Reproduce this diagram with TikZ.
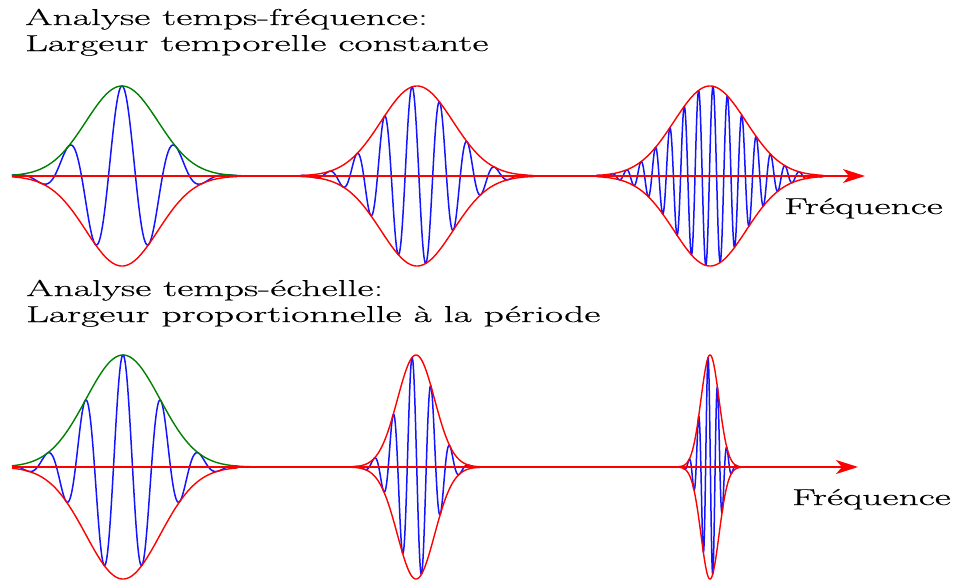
\documentclass[tikz,border=0pt]{standalone}
\usepackage{fontspec}
\newfontfamily\lblfont{Latin Modern Roman}[FakeBold=0.35]
\usetikzlibrary{arrows.meta}
\definecolor{wgreen}{RGB}{0,128,0}
\definecolor{wblue}{RGB}{20,20,255}
\definecolor{wred}{RGB}{255,0,0}
\tikzset{
  lbl/.style={anchor=base west, inner sep=0pt, font=\lblfont\fontsize{23}{27}\selectfont},
  carrier/.style={wblue, line width=1.5pt, line join=round},
  envred/.style={wred, line width=1.4pt},
  envgreen/.style={wgreen, line width=1.4pt},
  axisline/.style={wred, line width=1.5pt, -{Stealth[length=22pt,width=14pt,inset=6pt]}},
}
% #1 axis y, #2 amplitude, #3 centre, #4 sigma, #5 period, #6 peak x, #7 tmin, #8 tmax, #9 upper envelope style
\newcommand{\wavepacket}[9]{%
  \draw[carrier] plot[domain=#7:#8, samples=500, variable=\t]
    ({#3+#4*\t}, {#1-#2*exp(-0.5*\t*\t)*cos(360/#5*(#4*\t+#3-#6))});
  \draw[#9] plot[domain=#7:#8, samples=150, variable=\t]
    ({#3+#4*\t}, {#1-#2*exp(-0.5*\t*\t)});
  \draw[envred] plot[domain=#7:#8, samples=150, variable=\t]
    ({#3+#4*\t}, {#1+#2*exp(-0.5*\t*\t)});
}
\newcommand{\wide}[1]{\scalebox{1.72}[1]{#1}}
\begin{document}
\begin{tikzpicture}[x=1pt,y=-1pt]
\useasboundingbox (0,0) rectangle (955,582);

% ---- titles
\node[lbl] (h1) at (25,25) {\wide{Analyse temps-fréquence:}};
\node[lbl] (h2) at (25,51) {\wide{Largeur temporelle constante}};
\node[lbl] (h3) at (26,296) {\wide{Analyse temps-échelle:}};
\node[lbl] (h4) at (26,322) {\wide{Largeur proportionnelle à la période}};

% ---- row 1 : constant width
\wavepacket{176}{90}{122}{36}{54}{122}{-3.06}{3.2}{envgreen}
\draw[envgreen] plot[domain=3.2:3.3, samples=10, variable=\t] ({122+36*\t}, {176-90*exp(-0.5*\t*\t)});
\wavepacket{176}{90}{417}{36}{27.6}{412}{-3.25}{3.25}{envred}
\wavepacket{176}{90}{710}{36}{14.4}{713}{-3.15}{3.15}{envred}

\coordinate (a1s) at (12,176);
\coordinate (a1e) at (865,176);
\draw[axisline] (a1s) -- (a1e);
\node[lbl] (f1) at (784,214) {\wide{Fréquence}};

% ---- row 2 : width proportional to period
\wavepacket{467}{112}{123}{37}{38}{123}{-3.0}{3.1}{envgreen}
\draw[envgreen] plot[domain=3.1:3.5, samples=20, variable=\t] ({123+37*\t}, {467-112*exp(-0.5*\t*\t)});
\wavepacket{467}{112}{416}{18.5}{19}{412}{-3.5}{3.5}{envred}
\wavepacket{467}{112}{710}{9}{9.5}{708}{-3.4}{3.4}{envred}

\coordinate (a2s) at (12,467);
\coordinate (a2e) at (858,467);
\draw[axisline] (a2s) -- (a2e);
\node[lbl] (f2) at (792,505) {\wide{Fréquence}};
\end{tikzpicture}
\end{document}
